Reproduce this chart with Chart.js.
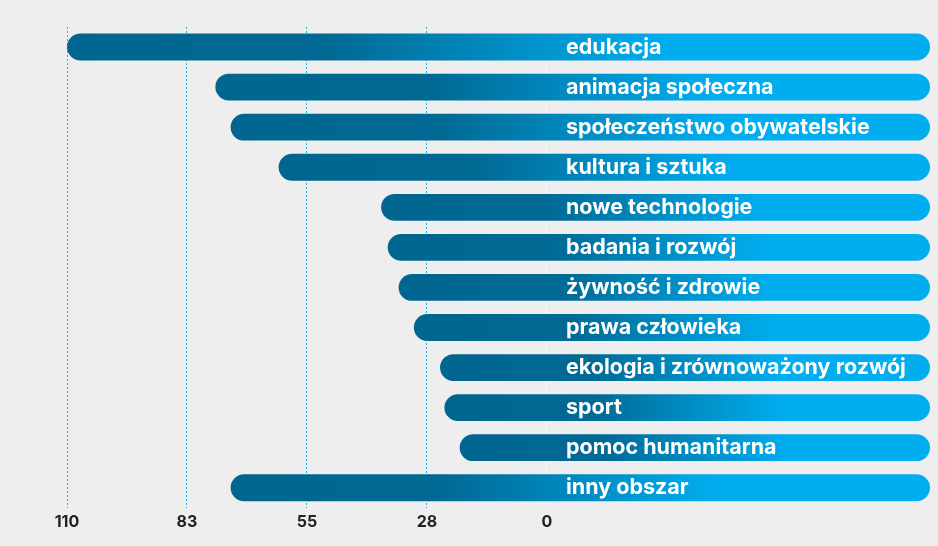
<!DOCTYPE html>
<html>
<head>
<meta charset="utf-8">
<script src="https://cdn.jsdelivr.net/npm/chart.js@4/dist/chart.umd.min.js"></script>
<style>
  html, body { margin: 0; padding: 0; background: #eeeeee; }
  #wrap { width: 938px; height: 546px; position: relative; }
</style>
</head>
<body>
<div id="wrap"><canvas id="areas"></canvas></div>
<script>
// Areas of activity, top to bottom
const categories = [
    'edukacja',
    'animacja społeczna',
    'społeczeństwo obywatelskie',
    'kultura i sztuka',
    'nowe technologie',
    'badania i rozwój',
    'żywność i zdrowie',
    'prawa człowieka',
    'ekologia i zrównoważony rozwój',
    'sport',
    'pomoc humanitarna',
    'inny obszar',
];
const values = [110, 76, 72.5, 61.5, 38, 36.5, 34, 30.5, 24.5, 23.5, 20, 72.5];

const tickValues = [0, 27.5, 55, 82.5, 110];
const tickLabels = ['0', '28', '55', '83', '110'];

// bars run on past zero into a label strip on the right
const labelEdge = -87.8;

const DARK = '#00668f';
const BRIGHT = '#00aeef';

function barGradient(c) {
    const { chart, dataIndex } = c;
    const { chartArea, scales } = chart;
    if (!chartArea || dataIndex === undefined) return DARK;
    const x0 = scales.x.getPixelForValue(values[dataIndex]);
    const x1 = scales.x.getPixelForValue(labelEdge);
    const g = chart.ctx.createLinearGradient(x0, 0, x1, 0);
    g.addColorStop(0, DARK);
    g.addColorStop(0.3, '#006994');
    g.addColorStop(0.7, BRIGHT);
    g.addColorStop(1, BRIGHT);
    return g;
}

// category names written inside the bar, right of zero
const barLabels = {
    id: 'barLabels',
    afterDatasetsDraw(chart) {
        const { ctx, scales } = chart;
        const x = scales.x.getPixelForValue(0) + 19;
        ctx.save();
        ctx.fillStyle = '#ffffff';
        ctx.font = '700 21.5px Inter, "Open Sans", sans-serif';
        ctx.textBaseline = 'middle';
        ctx.textAlign = 'left';
        categories.forEach((name, i) => {
            ctx.fillText(name, x, scales.y.getPixelForValue(i));
        });
        ctx.restore();
    }
};

new Chart(document.getElementById('areas').getContext('2d'), {
    type: 'bar',
    data: {
        labels: categories,
        datasets: [{
            data: values,
            base: labelEdge,
            backgroundColor: barGradient,
            borderRadius: 14,
            borderSkipped: false,
            barPercentage: 0.67,
            categoryPercentage: 1,
        }],
    },
    options: {
        indexAxis: 'y',
        responsive: true,
        maintainAspectRatio: false,
        animation: false,
        layout: { padding: { left: 67, right: 8, top: 27, bottom: 9 } },
        plugins: {
            legend: { display: false },
            tooltip: { enabled: false },
        },
        scales: {
            x: {
                reverse: true,
                min: labelEdge,
                max: 110,
                z: 1,
                afterBuildTicks: axis => { axis.ticks = tickValues.map(v => ({ value: v })); },
                border: { display: false, dash: [2, 2] },
                grid: {
                    drawTicks: false,
                    color: c => (c.tick && c.tick.value === 0 ? '#ffffff' : '#1fb3f0'),
                    lineWidth: 1,
                },
                ticks: {
                    padding: 5,
                    color: '#222222',
                    font: { family: 'Inter', weight: '700', size: 16 },
                    callback: (v, i) => tickLabels[i],
                },
            },
            y: { display: false },
        },
    },
    plugins: [barLabels],
});
</script>
</body>
</html>
